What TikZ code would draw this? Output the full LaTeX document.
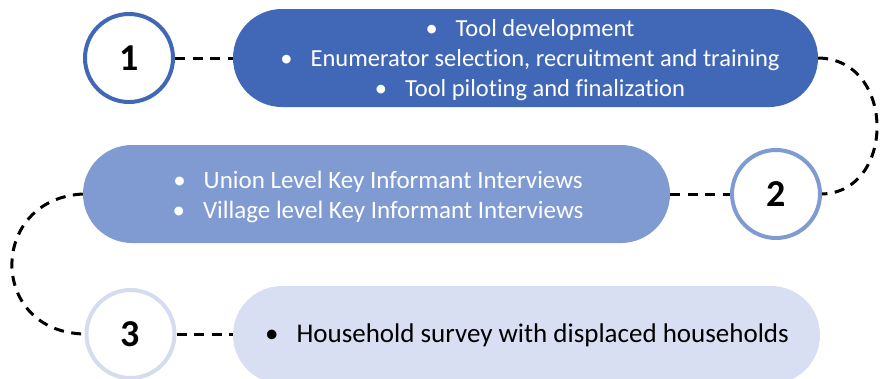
\documentclass[tikz,border=0pt]{standalone}
\usepackage{fontspec}
\setmainfont{Carlito}[Ligatures=NoCommon]
\definecolor{blueA}{HTML}{4168B7}
\definecolor{blueB}{HTML}{7F9BD2}
\definecolor{blueC}{HTML}{D9DFF2}
\definecolor{ringC}{HTML}{D5DCEF}
\tikzset{
  pill/.style={rounded corners=49pt, minimum height=98pt, inner sep=0pt, align=center},
  ring/.style={circle, line width=4pt, fill=white, minimum size=88pt, inner sep=0pt, font=\fontsize{38}{40}\selectfont\bfseries},
  link/.style={line width=3pt, dash pattern=on 10pt off 7.5pt, black},
  txt/.style={inner sep=0pt, align=center}
}
\newcommand{\bul}{\textbullet\hspace{18pt}}
\begin{document}
\begin{tikzpicture}[x=1pt,y=-1pt]
\useasboundingbox (0,0) rectangle (880,378);
\node[pill, fill=blueA, minimum width=585pt] (p1) at (525.5,58) {};
\node[pill, fill=blueB, minimum width=587pt] (p2) at (376.5,194) {};
\node[pill, fill=blueC, minimum width=587pt] (p3) at (526.5,335) {};
\node[txt, text=white, font=\fontsize{24.5}{30}\selectfont] (t1) at (530,60) {\bul Tool development\\ \bul Enumerator selection, recruitment and training\\ \bul Tool piloting and finalization};
\node[txt, text=white, font=\fontsize{25}{30}\selectfont] (t2) at (378,197) {\bul Union Level Key Informant Interviews\\ \bul Village level Key Informant Interviews};
\node[txt, text=black, font=\fontsize{27}{30}\selectfont] (t3) at (527,335) {\bul Household survey with displaced households};
\node[ring, draw=blueA] (c1) at (129,58) {1};
\node[ring, draw=blueB] (c2) at (776,194) {2};
\node[ring, draw=ringC] (c3) at (130.5,334) {3};
\draw[link] (c1.east) -- (p1.west);
\draw[link] (p2.east) -- (c2.west);
\draw[link] (c3.east) -- (p3.west |- c3.east);
\draw[link] (p1.east) .. controls (896,59) and (896,192) .. (c2.east);
\draw[link] (p2.west) .. controls (-12,199) and (-12,332) .. (c3.west);
\end{tikzpicture}
\end{document}
